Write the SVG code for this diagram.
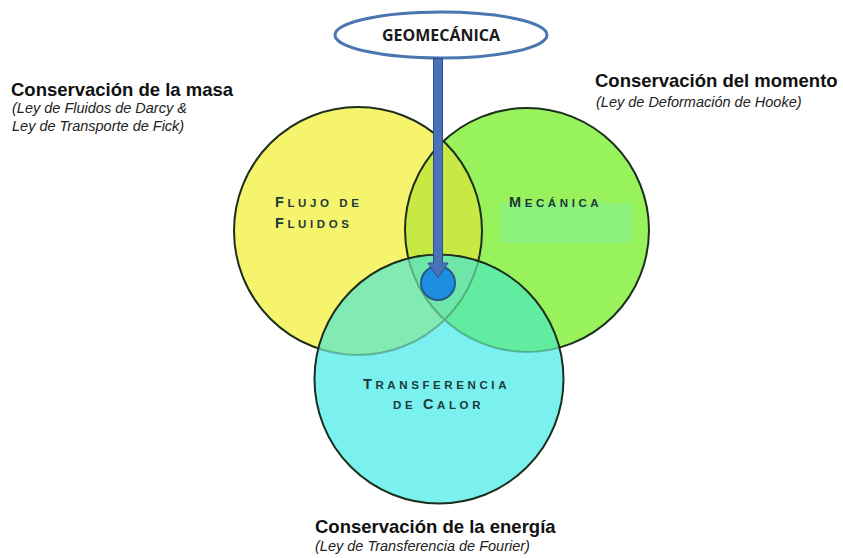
<svg xmlns="http://www.w3.org/2000/svg" width="843" height="558" viewBox="0 0 843 558">
<style>
.title{font-family:"Liberation Sans",Arial,sans-serif;font-weight:bold;font-size:18.5px;fill:#111}
.sub{font-family:"Liberation Sans",Arial,sans-serif;font-style:italic;font-size:14.5px;fill:#222}
.lbl{font-family:"Liberation Sans",Arial,sans-serif;font-weight:bold;font-size:11.5px;fill:#1c3a3a;letter-spacing:3.6px}
.big{font-size:14.5px}
.outline{fill:none;stroke:#1c2f1c;stroke-width:2}
</style>
<defs>
<clipPath id="cY"><circle cx="358" cy="231" r="124"/></clipPath>
<clipPath id="cG"><circle cx="527" cy="230" r="122"/></clipPath>
<clipPath id="cC"><circle cx="439" cy="379" r="124.5"/></clipPath>
<mask id="outC"><rect width="843" height="558" fill="#fff"/><circle cx="439" cy="379" r="124.5" fill="#000"/></mask>
</defs>
<rect width="843" height="558" fill="#fff"/>

<g id="texts">
<text class="title" x="11" y="96">Conservación de la masa</text>
<text class="sub" x="12" y="113">(Ley de Fluidos de Darcy &amp;</text>
<text class="sub" x="12" y="131">Ley de Transporte de Fick)</text>
<text class="title" x="595" y="87">Conservación del momento</text>
<text class="sub" x="596" y="107">(Ley de Deformación de Hooke)</text>
<text class="title" x="315" y="533">Conservación de la energía</text>
<text class="sub" x="315" y="551">(Ley de Transferencia de Fourier)</text>
</g>

<g id="fills">
<circle cx="358" cy="231" r="124" fill="#f6f46c"/>
<circle cx="527" cy="230" r="122" fill="#98f25c"/>
<rect x="500" y="203" width="132" height="40" fill="#8cf27c"/>
<circle cx="439" cy="379" r="124.5" fill="#7af1ef"/>
<g clip-path="url(#cY)"><circle cx="527" cy="230" r="122" fill="#c8e844"/></g>
<g clip-path="url(#cC)">
<circle cx="358" cy="231" r="124" fill="#82ebb4"/>
<circle cx="527" cy="230" r="122" fill="#62eca2"/>
<g clip-path="url(#cY)"><circle cx="527" cy="230" r="122" fill="#6ee6aa"/></g>
</g>
</g>

<g id="outlines">
<g mask="url(#outC)">
<circle class="outline" cx="358" cy="231" r="124"/>
<circle class="outline" cx="527" cy="230" r="122"/>
</g>
<g clip-path="url(#cC)" opacity="0.3">
<circle class="outline" cx="358" cy="231" r="124"/>
<circle class="outline" cx="527" cy="230" r="122"/>
</g>
<circle class="outline" cx="439" cy="379" r="124.5"/>
</g>

<g id="flujo">
<text class="lbl" x="275" y="207"><tspan class="big">F</tspan>LUJO DE</text>
<text class="lbl" x="275" y="228"><tspan class="big">F</tspan>LUIDOS</text>
</g>
<g id="mecanica">
<text class="lbl" x="509" y="207"><tspan class="big">M</tspan>ECÁNICA</text>
</g>
<g id="transferencia">
<text class="lbl" x="363" y="389"><tspan class="big">T</tspan>RANSFERENCIA</text>
<text class="lbl" x="393" y="409">DE <tspan class="big">C</tspan>ALOR</text>
</g>

<g id="geomecanica">
<ellipse cx="441" cy="35" rx="106" ry="23" fill="#fff" stroke="#4a76b0" stroke-width="3"/>
<text x="441" y="41" text-anchor="middle" font-family="'Open Sans','Liberation Sans',sans-serif" font-weight="bold" font-size="16" fill="#1a1a1a">GEOMECÁNICA</text>
</g>

<g id="center">
<circle cx="438" cy="283" r="17" fill="#1e8fe0" stroke="#25598a" stroke-width="2"/>
</g>

<g id="connectors">
<polygon points="433.5,58.5 442.5,58.5 442.5,263 448,263 438,278 428,263 433.5,263" fill="#4a72b8" stroke="#2e4f88" stroke-width="1"/>
</g>
</svg>
